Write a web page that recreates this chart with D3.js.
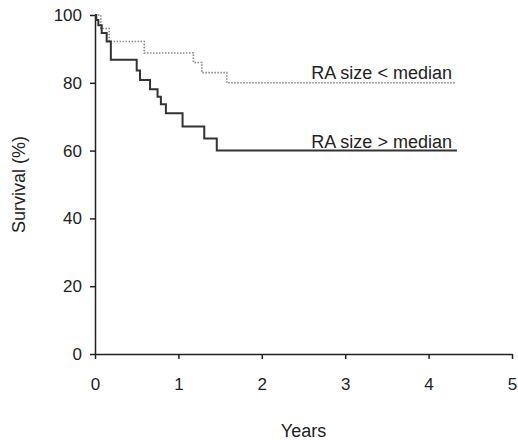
<!DOCTYPE html>
<html>
<head>
<meta charset="utf-8">
<script src="https://cdn.jsdelivr.net/npm/d3@7"></script>
<style>
  body { margin: 0; background: #fff; }
  svg text { font-family: "Liberation Sans", Arial, sans-serif; fill: #222; }
</style>
</head>
<body>
<svg id="chart" width="518" height="440"></svg>
<script>
// survival curves (Kaplan-Meier style, step after)
var smallTimes = [0, 0.07, 0.17, 0.59, 1.18, 1.28, 1.58, 4.33];
var smallSurv  = [100, 96, 92.2, 88.8, 86, 83, 80, 80];

var largeTimes = [0, 0.015, 0.04, 0.08, 0.14, 0.19, 0.5, 0.54, 0.66, 0.75, 0.79, 0.85, 1.05, 1.31, 1.46, 4.34];
var largeSurv  = [100, 98.5, 97, 94.7, 92.2, 86.8, 83.6, 80.8, 78.1, 75.9, 73.7, 71, 67.1, 63.6, 60, 60];

var xTicks = [0, 1, 2, 3, 4, 5];
var yTicks = [0, 20, 40, 60, 80, 100];

var svg = d3.select("#chart");

var x = d3.scaleLinear().domain([0, 5]).range([95, 512]);
var y = d3.scaleLinear().domain([0, 100]).range([354, 15]);

var styleAxis = function(g) {
    g.selectAll("path, line").attr("stroke", "#222").attr("stroke-width", 1.5);
    g.selectAll("text").attr("font-size", 17).attr("fill", "#222");
};

svg.append("g")
    .attr("transform", "translate(0," + y(0) + ")")
    .call(d3.axisBottom(x).tickValues(xTicks).tickSize(5).tickSizeOuter(0).tickPadding(19).tickFormat(d3.format("d")))
    .call(styleAxis);

svg.append("g")
    .attr("transform", "translate(" + x(0) + ",0)")
    .call(d3.axisLeft(y).tickValues(yTicks).tickSize(5).tickSizeOuter(0).tickPadding(8).tickFormat(d3.format("d")))
    .call(styleAxis);

var line = d3.line()
    .x(function(d) { return x(d[0]); })
    .y(function(d) { return y(d[1]); })
    .curve(d3.curveStepAfter);

var small = d3.zip(smallTimes, smallSurv);
var large = d3.zip(largeTimes, largeSurv);

svg.append("path")
    .datum(small)
    .attr("d", line)
    .attr("fill", "none")
    .attr("stroke", "#888")
    .attr("stroke-width", 1.6)
    .attr("stroke-dasharray", "1.5,1.5");

svg.append("path")
    .datum(large)
    .attr("d", line)
    .attr("fill", "none")
    .attr("stroke", "#333")
    .attr("stroke-width", 2);

// curve labels
svg.append("text")
    .attr("x", x(4.28)).attr("y", y(80) - 4)
    .attr("text-anchor", "end").attr("font-size", 18)
    .text("RA size < median");

svg.append("text")
    .attr("x", x(4.28)).attr("y", y(60) - 3)
    .attr("text-anchor", "end").attr("font-size", 18)
    .text("RA size > median");

// axis titles
svg.append("text")
    .attr("x", x(2.5)).attr("y", 437)
    .attr("text-anchor", "middle").attr("font-size", 18)
    .text("Years");

svg.append("text")
    .attr("transform", "translate(25," + y(50) + ") rotate(-90)")
    .attr("text-anchor", "middle").attr("font-size", 18)
    .text("Survival (%)");
</script>
</body>
</html>
